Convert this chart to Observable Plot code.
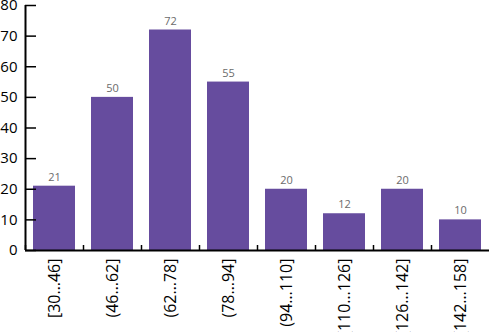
<!DOCTYPE html>
<html><head><meta charset="utf-8">
<script src="https://cdn.jsdelivr.net/npm/d3@7"></script>
<script src="https://cdn.jsdelivr.net/npm/@observablehq/plot@0.6"></script>
<style>body{margin:0;background:#fff}</style>
</head><body><div id="chart"></div>
<script>
const categories = ["[30…46]","(46…62]","(62…78]","(78…94]","(94…110]","(110…126]","(126…142]","(142…158]"];
const counts = [21,50,72,55,20,12,20,10];
const yTicks = [0,10,20,30,40,50,60,70,80];
const data = categories.map((c,i)=>({bin:c,count:counts[i]}));
const chart = Plot.plot({
  width:490, height:332, marginLeft:25, marginRight:1, marginTop:5, marginBottom:82,
  style:{fontFamily:"'Open Sans', sans-serif", background:"#fff"},
  x:{domain:categories, paddingInner:0.276, paddingOuter:0.138, round:false, label:null},
  y:{domain:[0,80], label:null},
  marks:[
    Plot.barY(data,{x:"bin",y:"count",fill:"#664c9e"}),
    Plot.text(data,{x:"bin",y:"count",text:d=>String(d.count),dy:-9,fill:"#6b6b6b",fontSize:11}),
    Plot.axisY({ticks:yTicks, tickSize:-11, text:null, strokeWidth:1.5, label:null}),
    Plot.axisY({ticks:yTicks, tickSize:0, tickPadding:8, fontSize:15, fill:"#000", label:null}),
    Plot.axisX({ticks:categories, tickSize:-5, dx:-29, text:null, strokeWidth:1.5, label:null}),
    Plot.axisX({tickRotate:-90, tickSize:0, tickPadding:8, fontSize:16, fill:"#000", label:null}),
    Plot.ruleX([categories[0]],{dx:-29, y1:0, y2:80, strokeWidth:2}),
    Plot.ruleY([0],{strokeWidth:2})
  ]
});
document.getElementById("chart").appendChild(chart);
</script>
</body></html>
